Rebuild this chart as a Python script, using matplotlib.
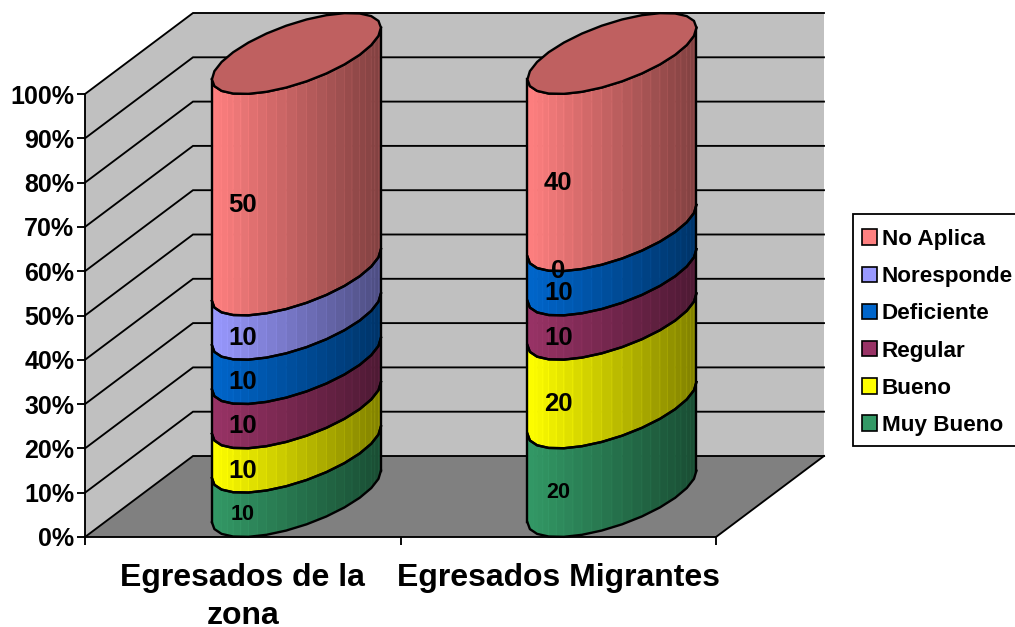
import numpy as np
import matplotlib
matplotlib.use("Agg")
import matplotlib.pyplot as plt
from matplotlib.patches import Patch, Polygon, Rectangle
from matplotlib.collections import PolyCollection

plt.rcParams['font.family'] = ['Liberation Sans', 'DejaVu Sans']
plt.rcParams['font.weight'] = 'bold'

categories = ["Egresados de la\nzona", "Egresados Migrantes"]
series_names = ["Muy Bueno", "Bueno", "Regular", "Deficiente", "Noresponde", "No Aplica"]
muy_bueno = [10, 20]
bueno = [10, 20]
regular = [10, 10]
deficiente = [10, 10]
no_responde = [10, 0]
no_aplica = [50, 40]
series_values = [muy_bueno, bueno, regular, deficiente, no_responde, no_aplica]
series_colors = ["#339966", "#FFFF00", "#993366", "#0066CC", "#9999FF", "#FF8080"]
y_ticks = list(range(0, 101, 10))

W, H = 1015, 627
fig = plt.figure(figsize=(W / 100, H / 100), dpi=100, facecolor="white")
ax = fig.add_axes([85 / W, 1 - 537 / H, (716 - 85) / W, (537 - 94) / H])
ax.set_xlim(-0.5, 1.5)
ax.set_ylim(0, 100)
ax.patch.set_visible(False)

# oblique depth of the 3-D box, in data units
DX = 108 / (631 / 2)
DY = 81 / (443 / 100)
R_W = 0.206
N = 26
LINE = 1.35
EDGE = 1.7

# walls and floor
wall = "#C0C0C0"
ax.add_patch(Polygon([(-0.5 + DX, DY), (1.5 + DX, DY), (1.5 + DX, 100 + DY), (-0.5 + DX, 100 + DY)],
                     fc=wall, ec="none", clip_on=False, zorder=1))
ax.add_patch(Polygon([(-0.5, 0), (-0.5 + DX, DY), (-0.5 + DX, 100 + DY), (-0.5, 100)],
                     fc=wall, ec="none", clip_on=False, zorder=1))
ax.add_patch(Polygon([(-0.5, 0), (1.5, 0), (1.5 + DX, DY), (-0.5 + DX, DY)],
                     fc="#808080", ec="none", clip_on=False, zorder=1.5))
for v in y_ticks:
    ax.plot([-0.5, -0.5 + DX, 1.5 + DX], [v, v + DY, v + DY], color="black", lw=LINE,
            clip_on=False, zorder=2, solid_joinstyle="miter")
ax.plot([1.5, 1.5 + DX], [0, DY], color="black", lw=LINE, clip_on=False, zorder=2)

# cylinders: the rings are coarse polygons, as in the original
phi = np.arctan2(DX / 2, R_W)
coarse_t = np.linspace(phi - np.pi, phi + np.pi, N + 1)
front_t = np.linspace(phi - np.pi, phi, N + 1)
all_t = coarse_t


def ring(t, cx, level):
    xs = R_W * np.cos(coarse_t) + DX / 2 * np.sin(coarse_t)
    ys = DY / 2 * np.sin(coarse_t)
    return (cx - 0.001 + DX / 2 + np.interp(t, coarse_t, xs),
            level + DY / 2 + np.interp(t, coarse_t, ys))


def shade(color, f):
    return tuple(c * f for c in matplotlib.colors.to_rgb(color))


for ci in range(len(categories)):
    base = 0
    top_color = None
    for si, vals in enumerate(series_values):
        v = vals[ci]
        if v > 0:
            x0, y0 = ring(front_t, ci, base)
            x1, y1 = ring(front_t, ci, base + v)
            polys, faces, edges = [], [], []
            span = x0.max() - x0.min()
            for k in range(N):
                polys.append([(x0[k], y0[k]), (x0[k + 1], y0[k + 1]), (x1[k + 1], y1[k + 1]), (x1[k], y1[k])])
                f = 1.0 - 0.5 * ((x0[k] + x0[k + 1]) / 2 - x0.min()) / span
                faces.append(shade(series_colors[si], f))
                edges.append(shade(series_colors[si], min(f + 0.07, 1.0)))
            ax.add_collection(PolyCollection(polys, facecolors=faces, edgecolors=edges, linewidths=0.6,
                                             clip_on=False, zorder=3, antialiaseds=True))
            ax.plot(x0, y0, color="black", lw=EDGE, clip_on=False, zorder=4)
            ax.plot(x1, y1, color="black", lw=EDGE, clip_on=False, zorder=4)
            top_color = series_colors[si]
        size = 15.5 if si == 0 else 18.5
        ax.text(ci, base + v / 2, str(v), ha="center", va="center", fontsize=size,
                fontweight="bold", color="black", zorder=6, clip_on=False)
        base += v
    xb, yb = ring(front_t, ci, 0)
    xt, yt = ring(front_t, ci, base)
    for i in (0, -1):
        ax.plot([xb[i], xt[i]], [yb[i], yt[i]], color="black", lw=EDGE, clip_on=False, zorder=4)
    xc, yc = ring(all_t, ci, base)
    ax.add_patch(Polygon(np.column_stack([xc, yc]), fc=shade(top_color, 0.75), ec="black", lw=EDGE,
                         clip_on=False, zorder=5))

# axes
for s in ("top", "right"):
    ax.spines[s].set_visible(False)
for s in ("left", "bottom"):
    ax.spines[s].set_linewidth(LINE)
    ax.spines[s].set_zorder(4.5)
ax.set_yticks(y_ticks)
ax.set_yticklabels([f"{v}%" for v in y_ticks], fontsize=18, fontweight="bold")
ax.set_xticks([-0.5, 0.5, 1.5])
ax.set_xticklabels([])
ax.set_xticks(range(len(categories)), minor=True)
ax.set_xticklabels(categories, minor=True, fontsize=23, fontweight="bold", linespacing=1.38)
ax.tick_params(axis="y", length=5.8, width=LINE, pad=2)
ax.tick_params(axis="x", which="major", length=5.8, width=LINE)
ax.tick_params(axis="x", which="minor", length=0, pad=18.5)

handles = [Patch(facecolor=c, edgecolor="black", linewidth=1.2, label=n)
           for c, n in zip(series_colors[::-1], series_names[::-1])]
fig.add_artist(Rectangle((853 / W, 1 - 446 / H), 180 / W, 232 / H, transform=fig.transFigure,
                         fc="white", ec="black", lw=1.3, zorder=1))
leg = fig.legend(handles=handles, loc="upper left", bbox_to_anchor=(862 / W, 1 - 229 / H),
                 bbox_transform=fig.transFigure, borderaxespad=0, fontsize=16.2, frameon=False,
                 handlelength=0.68, handleheight=0.68, handletextpad=0.2,
                 labelspacing=0.72, borderpad=0)
leg.set_zorder(2)

fig.savefig("out.png", dpi=100)
